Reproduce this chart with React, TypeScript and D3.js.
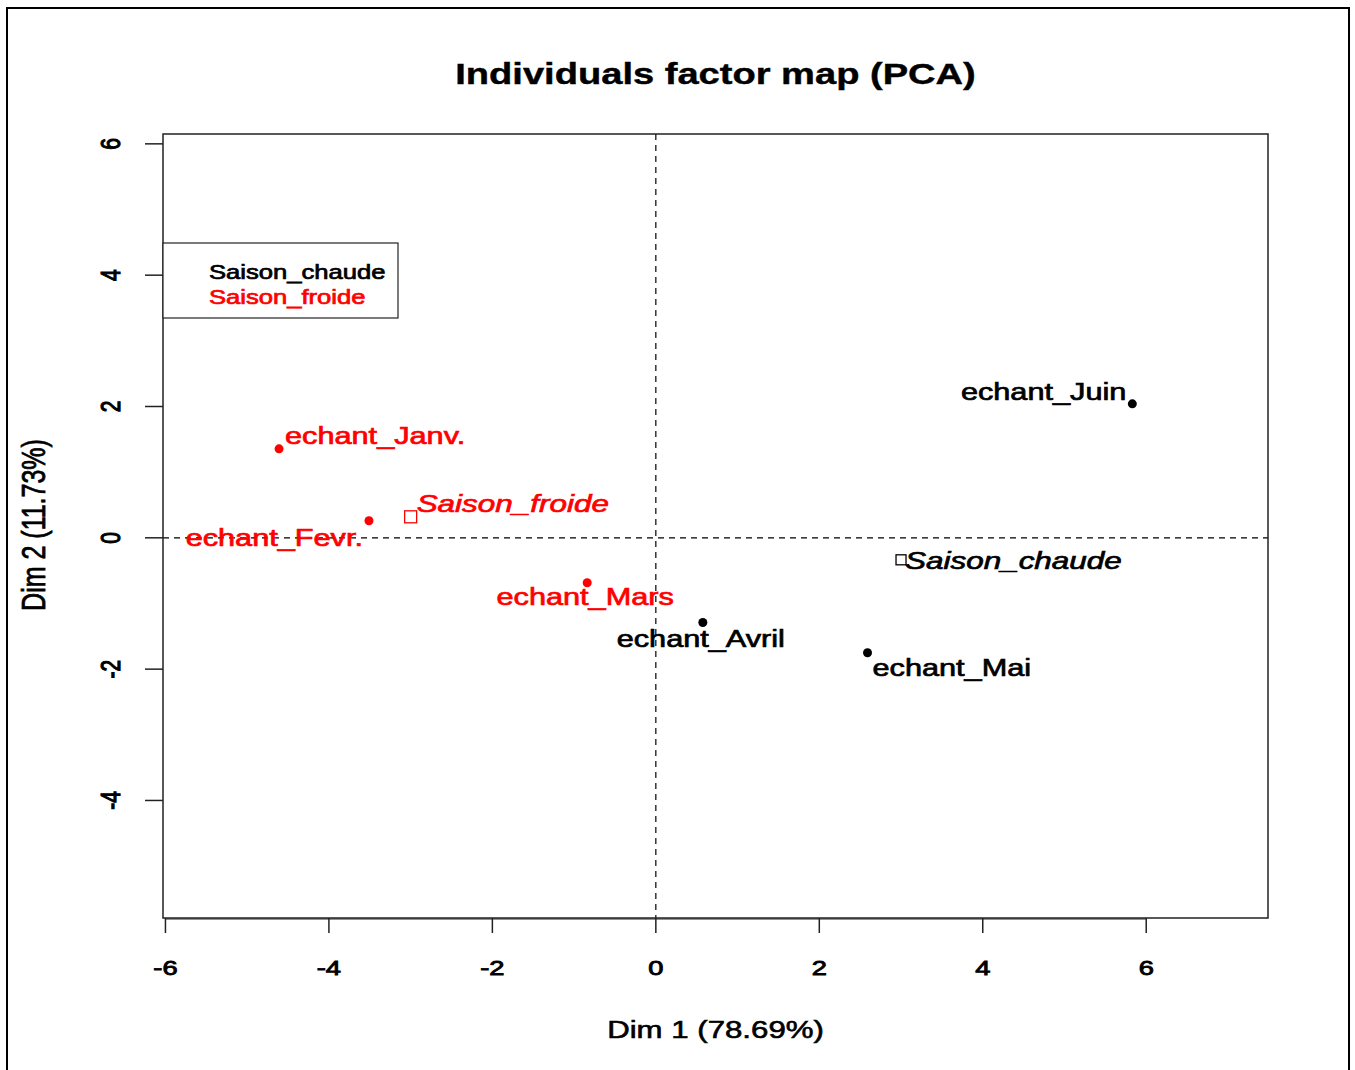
import React from "react";
import * as d3 from "d3";

const names = ["echant_Janv.", "echant_Fevr.", "echant_Mars", "echant_Avril", "echant_Mai", "echant_Juin"];
const dim1 = [-4.61, -3.51, -0.84, 0.575, 2.59, 5.83];
const dim2 = [1.355, 0.26, -0.685, -1.29, -1.75, 2.04];
const groups = ["Saison_froide", "Saison_froide", "Saison_froide", "Saison_chaude", "Saison_chaude", "Saison_chaude"];

const supNames = ["Saison_froide", "Saison_chaude"];
const supDim1 = [-3.0, 3.0];
const supDim2 = [0.32, -0.335];

const xTicks = [-6, -4, -2, 0, 2, 4, 6];
const yTicks = [-4, -2, 0, 2, 4, 6];
const legendItems = ["Saison_chaude", "Saison_froide"];

// label placement (px offsets from the point, text anchor)
const labelPos: [number, number, string][] = [
  [6, -5, "start"],
  [-6, 25, "end"],
  [-2, 22, "middle"],
  [-2, 24, "middle"],
  [5, 23, "start"],
  [-6, -4, "end"],
];
const supLabelPos: [number, number, string][] = [
  [6, -5, "start"],
  [4, 9, "start"],
];

const colorOf = (g: string) => (g === "Saison_froide" ? "#ff0000" : "#000000");

const SX = 1.3;
const FONT = "'Liberation Sans', Arial, sans-serif";

function T(props: {
  x: number; y: number; anchor?: string; size: number; weight?: string; italic?: boolean;
  fill?: string; rotate?: number; heavy?: number; children: React.ReactNode;
}) {
  const { x, y, anchor = "start", size, weight = "normal", italic, fill = "#000", rotate, heavy = 0.6, children } = props;
  return (
    <text
      transform={`translate(${x},${y}) scale(${SX},1)${rotate ? ` rotate(${rotate})` : ""}`}
      textAnchor={anchor as any}
      fontSize={size}
      fontWeight={weight}
      fontStyle={italic ? "italic" : "normal"}
      fontFamily={FONT}
      fill={fill}
      stroke={fill}
      strokeWidth={heavy}
    >
      {children}
    </text>
  );
}

export default function App() {
  const W = 1355, H = 1070;
  const left = 163, right = 1268, top = 134, bottom = 918;
  const x = d3.scaleLinear().domain([-6.03, 7.49]).range([left, right]);
  const y = d3.scaleLinear().domain([-5.79, 6.15]).range([bottom, top]);
  const cx = (left + right) / 2;

  return (
    <div style={{ position: "absolute", left: 0, top: 0 }}>
      <svg width={W} height={H} style={{ display: "block", background: "#fff" }}>
        <rect x={7} y={8} width={1342} height={1080} fill="none" stroke="#000" strokeWidth={2} />

        <T x={cx} y={84} anchor="middle" size={29.3} weight="bold" heavy={0.4}>Individuals factor map (PCA)</T>

        {/* dashed axes */}
        <line x1={x(0)} x2={x(0)} y1={top} y2={bottom} stroke="#000" strokeWidth={1.2} strokeDasharray="6,5" />
        <line x1={left} x2={right} y1={y(0)} y2={y(0)} stroke="#000" strokeWidth={1.2} strokeDasharray="6,5" />

        {/* plot box */}
        <rect x={left} y={top} width={right - left} height={bottom - top} fill="none" stroke="#222" strokeWidth={1.5} />

        {/* x axis */}
        <line x1={x(xTicks[0])} x2={x(xTicks[xTicks.length - 1])} y1={bottom + 1} y2={bottom + 1} stroke="#222" strokeWidth={1.2} />
        {xTicks.map((t) => (
          <g key={"xt" + t}>
            <line x1={x(t)} x2={x(t)} y1={bottom} y2={bottom + 15} stroke="#222" strokeWidth={1.5} />
            <T x={x(t)} y={975} anchor="middle" size={21} heavy={0.9}>{t}</T>
          </g>
        ))}

        {/* y axis */}
        {yTicks.map((t) => (
          <g key={"yt" + t}>
            <line x1={left - 18} x2={left} y1={y(t)} y2={y(t)} stroke="#222" strokeWidth={1.5} />
            <T x={120} y={y(t)} anchor="middle" size={21} rotate={-90} heavy={0.9}>{t}</T>
          </g>
        ))}

        <T x={cx} y={1038} anchor="middle" size={24}>Dim 1 (78.69%)</T>
        <T x={45} y={525} anchor="middle" size={25} rotate={-90}>Dim 2 (11.73%)</T>

        {/* legend */}
        <rect x={left} y={243} width={235} height={75} fill="#fff" stroke="#222" strokeWidth={1.2} />
        {legendItems.map((g, i) => (
          <T key={g} x={209} y={279 + i * 25} size={19.7} fill={colorOf(g)} heavy={0.7}>{g}</T>
        ))}

        {/* individuals */}
        {names.map((n, i) => (
          <g key={n}>
            <circle cx={x(dim1[i])} cy={y(dim2[i])} r={4.5} fill={colorOf(groups[i])} />
            <T x={x(dim1[i]) + labelPos[i][0]} y={y(dim2[i]) + labelPos[i][1]} anchor={labelPos[i][2]} size={23.6} fill={colorOf(groups[i])} heavy={0.7}>{n}</T>
          </g>
        ))}

        {/* supplementary categories */}
        {supNames.map((n, i) => {
          const s = i === 0 ? 12 : 10;
          return (
            <g key={n}>
              <rect x={x(supDim1[i]) - s / 2} y={y(supDim2[i]) - s / 2} width={s} height={s} fill="none" stroke={colorOf(n)} strokeWidth={1.3} />
              <T x={x(supDim1[i]) + supLabelPos[i][0]} y={y(supDim2[i]) + supLabelPos[i][1]} anchor={supLabelPos[i][2]} size={24.2} italic fill={colorOf(n)} heavy={0.7}>{n}</T>
            </g>
          );
        })}
      </svg>
    </div>
  );
}
